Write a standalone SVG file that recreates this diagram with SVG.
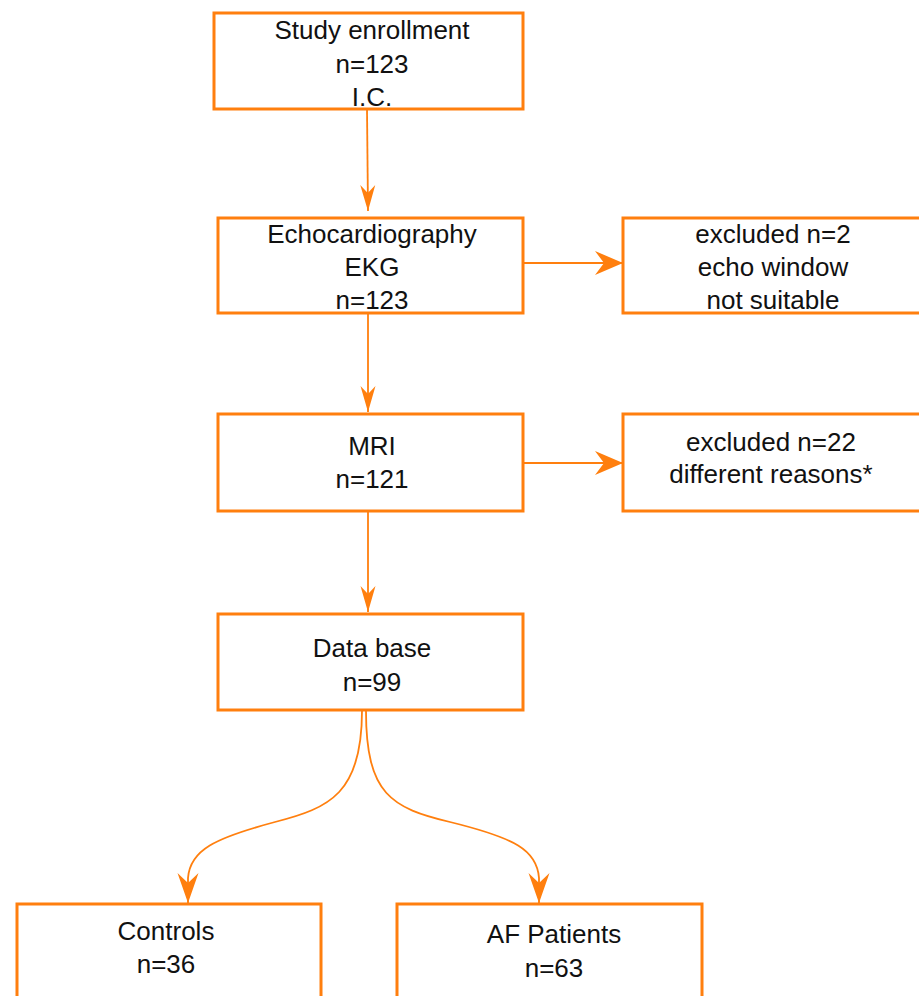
<svg xmlns="http://www.w3.org/2000/svg" width="919" height="996" viewBox="0 0 919 996">
<style>
.box{fill:#fff;stroke:#FF7F0E;stroke-width:3}
.t{font-family:"Liberation Sans",Arial,sans-serif;font-size:26px;fill:#111;text-anchor:middle}
.c{fill:none;stroke:#FF7F0E;stroke-width:1.8}
.h{fill:none;stroke:#FF7F0E;stroke-width:2.2}
</style>
<defs>
<marker id="av" markerUnits="userSpaceOnUse" markerWidth="30" markerHeight="20" refX="26" refY="8" orient="auto" overflow="visible">
<path d="M26,8 L0,0.5 L8,8 L0,15.5 Z" fill="#FF7F0E"/>
</marker>
<marker id="ah" markerUnits="userSpaceOnUse" markerWidth="30" markerHeight="26" refX="28" refY="12" orient="auto" overflow="visible">
<path d="M28,12 L0,0 L9,12 L0,24 Z" fill="#FF7F0E"/>
</marker>
<marker id="ab" markerUnits="userSpaceOnUse" markerWidth="34" markerHeight="24" refX="30" refY="10.5" orient="auto" overflow="visible">
<path d="M30,10.5 L0,0 L10,10.5 L0,21 Z" fill="#FF7F0E"/>
</marker>
</defs>
<g id="connectors">
<path class="c" d="M367,109 L368,211" marker-end="url(#av)"/>
<path class="c" d="M368,313 L368,412" marker-end="url(#av)"/>
<path class="c" d="M368,511 L368,612" marker-end="url(#av)"/>
<path class="h" d="M523,263 L623,263" marker-end="url(#ah)"/>
<path class="h" d="M523,463 L623,463" marker-end="url(#ah)"/>
<path class="c" d="M362,711 C362,793 330,808 275,822 C215,838 190,850 188,878 L188,903" marker-end="url(#ab)"/>
<path class="c" d="M366,711 C366,795 392,808 450,822 C515,838 537,850 539,878 L539,903" marker-end="url(#ab)"/>
</g>
<g id="study">
<rect class="box" x="214" y="13" width="309" height="96"/>
<text class="t" x="372" y="39">Study enrollment</text>
<text class="t" x="372" y="73">n=123</text>
<text class="t" x="372" y="106">I.C.</text>
</g>
<g id="echo">
<rect class="box" x="218" y="218" width="305" height="95"/>
<text class="t" x="372" y="243">Echocardiography</text>
<text class="t" x="372" y="276">EKG</text>
<text class="t" x="372" y="309">n=123</text>
</g>
<g id="excl1">
<rect class="box" x="623" y="218" width="303" height="95"/>
<text class="t" x="773" y="243">excluded n=2</text>
<text class="t" x="773" y="276">echo window</text>
<text class="t" x="773" y="309">not suitable</text>
</g>
<g id="mri">
<rect class="box" x="218" y="414" width="305" height="97"/>
<text class="t" x="372" y="455">MRI</text>
<text class="t" x="372" y="488">n=121</text>
</g>
<g id="excl2">
<rect class="box" x="623" y="414" width="303" height="97"/>
<text class="t" x="771" y="451">excluded n=22</text>
<text class="t" x="771" y="483">different reasons*</text>
</g>
<g id="database">
<rect class="box" x="218" y="614" width="305" height="96"/>
<text class="t" x="372" y="657">Data base</text>
<text class="t" x="372" y="691">n=99</text>
</g>
<g id="controls">
<rect class="box" x="17" y="904" width="304" height="110"/>
<text class="t" x="166" y="940">Controls</text>
<text class="t" x="166" y="973">n=36</text>
</g>
<g id="af">
<rect class="box" x="397" y="904" width="305" height="110"/>
<text class="t" x="554" y="943">AF Patients</text>
<text class="t" x="554" y="977">n=63</text>
</g>
</svg>
